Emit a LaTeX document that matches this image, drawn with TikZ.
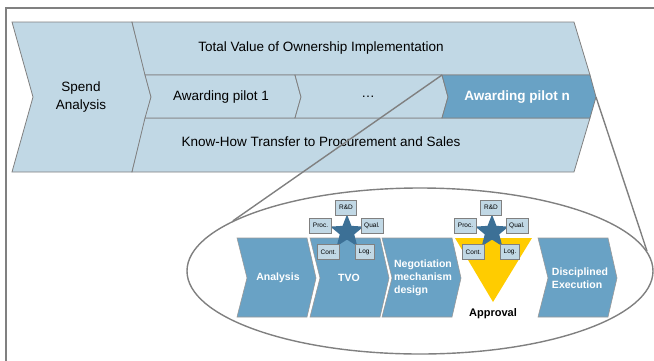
\documentclass[tikz,border=0pt]{standalone}
\usepackage{fontspec}
\setmainfont{Liberation Sans}
\usetikzlibrary{shapes.geometric}
\definecolor{bandblue}{RGB}{193,216,229}
\definecolor{stepblue}{RGB}{105,162,197}
\definecolor{starblue}{RGB}{60,112,150}
\definecolor{approvalyellow}{RGB}{255,204,0}
\definecolor{linegray}{RGB}{128,128,128}
\tikzset{
  band/.style={fill=bandblue,draw=linegray,line width=0.8pt},
  stepchev/.style={fill=stepblue,draw=linegray!80,line width=0.6pt},
  bandtext/.style={font=\fontsize{13.5}{18}\selectfont,align=center},
  steptext/.style={font=\fontsize{10.5}{13}\selectfont\bfseries,text=white,align=left},
  role/.style={fill=bandblue,draw=linegray,line width=0.8pt,font=\fontsize{6.5}{7.5}\selectfont,
    inner xsep=3.3pt,inner ysep=0pt,minimum height=15pt},
  zoomline/.style={draw=linegray,line width=1.4pt}
}

\begin{document}
\begin{tikzpicture}[x=1pt,y=-1pt]
  \useasboundingbox (0,0) rectangle (654,360);
  \clip (0,0) rectangle (654,360);
  \draw[linegray,line width=1.2pt] (6,8) rectangle (680,380);

  % spend analysis and the three bands
  \draw[band] (12,22) -- (132,22) -- (151,97) -- (132,172) -- (12,172) -- (33,97) -- cycle;
  \draw[band] (132,22) -- (574,22) -- (590,75) -- (145,75) -- cycle;
  \draw[band] (145,118) -- (590,118) -- (574,172) -- (132,172) -- cycle;
  \draw[band] (145,75) -- (295,75) -- (301,97) -- (295,118) -- (145,118) -- (151,97) -- cycle;
  \draw[band] (295,75) -- (442,75) -- (448,97) -- (442,118) -- (295,118) -- (301,97) -- cycle;
  \draw[band,fill=stepblue] (442,75) -- (590,75) -- (596,97) -- (590,118) -- (442,118) -- (448,97) -- cycle;
  \coordinate (pn-left) at (442,75);
  \coordinate (pn-tip) at (596,97);

  \node[bandtext] (spend) at (81,97) {Spend\\Analysis};
  \node[bandtext] (tvoband) at (321,48) {Total Value of Ownership Implementation};
  \node[bandtext] (pilot1) at (221,97) {Awarding pilot 1};
  \node[bandtext] (dots) at (368,97) {…};
  \node[bandtext,font=\fontsize{13.5}{18}\selectfont\bfseries,text=white] (pilotn) at (517,97) {Awarding pilot n};
  \node[bandtext] (knowhow) at (321,142) {Know-How Transfer to Procurement and Sales};

  % zoom into the pilot
  \node[ellipse,draw=linegray,line width=1.4pt,minimum width=466pt,minimum height=166pt,inner sep=0pt]
    (zoom) at (420,271) {};
  \draw[zoomline] (pn-left) -- (zoom.165);
  \draw[zoomline] (pn-tip) -- (zoom.5);

  \foreach \x in {237,310,382,538}
    \draw[stepchev] (\x,238) -- ++(70,0) -- ++(9,40) -- ++(-9,39) -- ++(-70,0) -- ++(10,-39) -- cycle;
  \node[steptext] (analysis) at (278,278) {Analysis};
  \node[steptext] (tvo) at (349,278) {TVO};
  \node[steptext] (negotiation) at (423,278) {Negotiation\\mechanism\\design};
  \node[steptext] (execution) at (580,278) {Disciplined\\Execution};

  \fill[approvalyellow] (455,238) -- (532,238) -- (493,302) -- cycle;
  \node[font=\fontsize{11}{13}\selectfont\bfseries] (approval) at (493,314) {Approval};

  % functions around each star
  \foreach \sx/\sy/\grp in {347/232/tvo,492/232/app} {
    \node[star,star points=5,star point ratio=2.3,minimum size=35pt,inner sep=0pt,fill=starblue]
      (star-\grp) at (\sx,\sy) {};
    \node[role] (rd-\grp) at (\sx-1,\sy-24.5) {R\&D};
    \node[role] (proc-\grp) at (\sx-26.5,\sy-6.5) {Proc.};
    \node[role] (qual-\grp) at (\sx+25,\sy-6.5) {Qual.};
    \node[role] (cont-\grp) at (\sx-18.5,\sy+20) {Cont.};
    \node[role] (log-\grp) at (\sx+18,\sy+20) {Log.};
  }
\end{tikzpicture}
\end{document}
